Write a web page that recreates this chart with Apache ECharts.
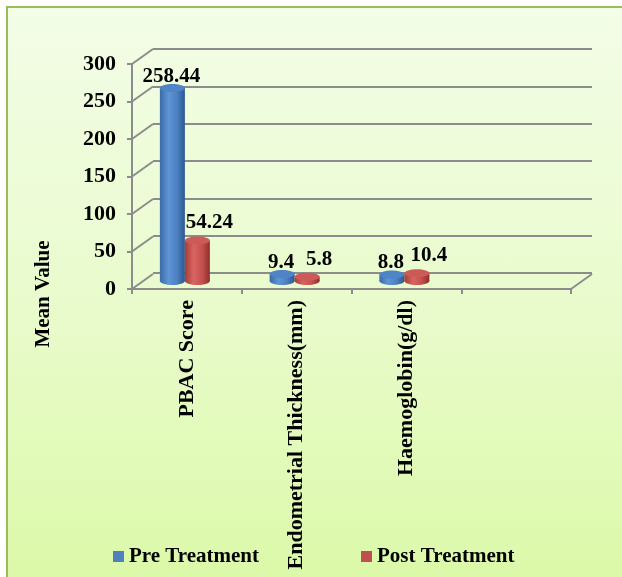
<!DOCTYPE html>
<html>
<head>
<meta charset="utf-8">
<script src="https://cdn.jsdelivr.net/npm/echarts@6/dist/echarts.min.js"></script>
<style>
  html, body { margin: 0; padding: 0; background: #ffffff; }
  #wrap { position: relative; width: 622px; height: 577px; overflow: hidden; }
  #panel {
    position: absolute; left: 6px; top: 6px; width: 640px; height: 600px;
    border-left: 2px solid #9bbb59; border-top: 2px solid #9bbb59;
    background: linear-gradient(to bottom, #f3fde7 0%, #e9fbcc 50%, #daf9a5 100%);
  }
  #chart { position: absolute; left: 0; top: 0; width: 622px; height: 577px; }
</style>
</head>
<body>
<div id="wrap">
  <div id="panel"></div>
  <div id="chart"></div>
</div>
<script>
// Categories along the floor (last slot is left empty, as on the original sheet)
const categories = ['PBAC Score', 'Endometrial Thickness(mm)', 'Haemoglobin(g/dl)', ''];
// Mean values per group
const preTreatment = [258.44, 9.4, 8.8];
const postTreatment = [54.24, 5.8, 10.4];
// Value axis ticks
const yTicks = [0, 50, 100, 150, 200, 250, 300];
const seriesNames = ['Pre Treatment', 'Post Treatment'];

const FONT = '"Liberation Serif", "Times New Roman", serif';
const GRID_LINE = '#8c8c8c';
const DEPTH_X = 21, DEPTH_Y = -15;

const chart = echarts.init(document.getElementById('chart'), null, { renderer: 'canvas' });

function cylinderRenderer(side, palette, labelDx, labelGap) {
  return function (params, api) {
    const cat = api.value(0), v = api.value(1);
    const topPt = api.coord([cat, v]);
    const basePt = api.coord([cat, 0]);
    const w = 25, ry = 4;
    const x0 = side < 0 ? topPt[0] - w : topPt[0];
    const cx = x0 + w / 2;
    const body = new echarts.graphic.LinearGradient(0, 0, 1, 0, [
      { offset: 0, color: palette.edge },
      { offset: 0.35, color: palette.light },
      { offset: 0.7, color: palette.mid },
      { offset: 1, color: palette.dark }
    ]);
    return {
      type: 'group',
      children: [
        { type: 'ellipse', shape: { cx: cx, cy: basePt[1], rx: w / 2, ry: ry }, style: { fill: body } },
        { type: 'rect', shape: { x: x0, y: topPt[1], width: w, height: basePt[1] - topPt[1] }, style: { fill: body } },
        { type: 'ellipse', shape: { cx: cx, cy: topPt[1], rx: w / 2, ry: ry }, style: { fill: palette.top } },
        {
          type: 'text',
          style: {
            text: String(v), x: cx + labelDx, y: topPt[1] - ry - labelGap,
            align: 'center', verticalAlign: 'bottom',
            font: 'bold 21px ' + FONT, fill: '#000000'
          }
        }
      ]
    };
  };
}

const blue = { edge: '#3a6aa8', light: '#5f95d6', mid: '#4a7fc0', dark: '#2c5790', top: '#4f84c6' };
const red = { edge: '#a53d3a', light: '#d96461', mid: '#c2504d', dark: '#8e302d', top: '#cc5a57' };

const option = {
  backgroundColor: 'transparent',
  animation: false,
  grid: [
    // back wall
    { left: 153, top: 49, width: 439, height: 224 },
    // front plane (axes and labels)
    { left: 132, top: 64, width: 439, height: 225 },
    // plane of the cylinders
    { left: 130, top: 57, width: 439, height: 224 },
    // holder for the value-axis title
    { left: 132, top: 240, width: 10, height: 108 }
  ],
  xAxis: [
    { gridIndex: 0, type: 'category', data: categories, show: false },
    {
      gridIndex: 1, type: 'category', data: categories,
      axisLine: { show: true, lineStyle: { color: GRID_LINE, width: 2 } },
      axisTick: { show: true, length: 5, lineStyle: { color: GRID_LINE, width: 2 } },
      axisLabel: {
        rotate: 90, margin: 11, interval: 0,
        fontFamily: FONT, fontWeight: 'bold', fontSize: 22, color: '#000'
      },
      splitLine: { show: false }
    },
    { gridIndex: 2, type: 'category', data: categories, show: false },
    { gridIndex: 3, type: 'category', data: [''], show: false }
  ],
  yAxis: [
    {
      gridIndex: 0, type: 'value', min: 0, max: 300, interval: 50,
      axisLine: { show: false }, axisTick: { show: false }, axisLabel: { show: false },
      splitLine: { show: true, lineStyle: { color: GRID_LINE, width: 2 } }
    },
    {
      gridIndex: 1, type: 'value', min: 0, max: 300, interval: 50,
      axisLine: { show: true, lineStyle: { color: GRID_LINE, width: 2 } },
      axisTick: { show: true, length: 5, lineStyle: { color: GRID_LINE, width: 2 } },
      axisLabel: { margin: 16, fontFamily: FONT, fontWeight: 'bold', fontSize: 22, color: '#000' },
      splitLine: { show: false }
    },
    { gridIndex: 2, type: 'value', min: 0, max: 300, show: false },
    {
      gridIndex: 3, type: 'value', min: 0, max: 1,
      axisLine: { show: false }, axisTick: { show: false }, axisLabel: { show: false },
      splitLine: { show: false },
      name: 'Mean Value', nameLocation: 'middle', nameGap: 78, nameRotate: 90,
      nameTextStyle: { fontFamily: FONT, fontWeight: 'bold', fontSize: 21, color: '#000' }
    }
  ],
  legend: {
    data: seriesNames,
    left: 113, top: 546, padding: 0,
    icon: 'rect', itemWidth: 11, itemHeight: 11, itemGap: 102,
    textStyle: { fontFamily: FONT, fontWeight: 'bold', fontSize: 21, color: '#000' }
  },
  series: [
    {
      // depth connectors of the value ticks and the floor's right edge
      type: 'custom', xAxisIndex: 1, yAxisIndex: 1, silent: true, z: 1,
      data: yTicks.map(function (t) { return [0, t]; }),
      renderItem: function (params, api) {
        const cs = params.coordSys;
        const y = api.coord([0, api.value(1)])[1];
        const lines = [{
          type: 'line',
          shape: { x1: cs.x, y1: y, x2: cs.x + DEPTH_X, y2: y + DEPTH_Y },
          style: { stroke: GRID_LINE, lineWidth: 2 }
        }];
        if (api.value(1) === 0) {
          lines.push({
            type: 'line',
            shape: { x1: cs.x + cs.width, y1: y, x2: cs.x + cs.width + DEPTH_X, y2: y + DEPTH_Y },
            style: { stroke: GRID_LINE, lineWidth: 2 }
          });
        }
        return { type: 'group', children: lines };
      }
    },
    {
      name: seriesNames[0], type: 'custom', xAxisIndex: 2, yAxisIndex: 2, z: 5,
      itemStyle: { color: '#4f81bd' },
      data: preTreatment.map(function (v, i) { return [i, v]; }),
      renderItem: cylinderRenderer(-1, blue, -1, -3)
    },
    {
      name: seriesNames[1], type: 'custom', xAxisIndex: 2, yAxisIndex: 2, z: 5,
      itemStyle: { color: '#c0504d' },
      data: postTreatment.map(function (v, i) { return [i, v]; }),
      renderItem: cylinderRenderer(1, red, 12, 3)
    }
  ]
};

chart.setOption(option);
</script>
</body>
</html>
